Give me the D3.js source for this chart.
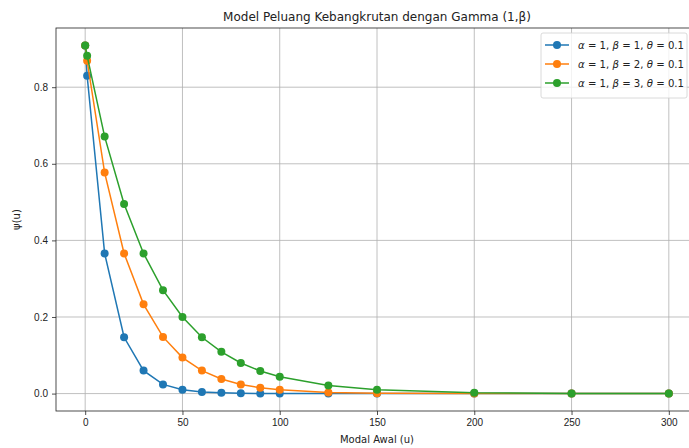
<!DOCTYPE html>
<html>
<head>
<meta charset="utf-8">
<script src="https://cdn.jsdelivr.net/npm/d3@7"></script>
<style>
body{margin:0;background:#fff;}
svg{display:block;font-family:"DejaVu Sans",sans-serif;}
.tick text{font-size:10px;fill:#222;}
.title{font-size:12px;fill:#222;}
.label{font-size:10px;fill:#222;}
.legtext{font-size:10px;fill:#222;}
</style>
</head>
<body>
<svg id="chart"></svg>
<script>
// data
var modal = [0,1,10,20,30,40,50,60,70,80,90,100,125,150,200,250,300]
var psiBeta1 = [0.909,0.830,0.366,0.147,0.060,0.024,0.010,0.004,0.002,0.001,0.0003,0.0001,0,0,0,0,0]
var psiBeta2 = [0.909,0.869,0.577,0.366,0.233,0.148,0.094,0.060,0.038,0.024,0.015,0.010,0.003,0.001,0.0001,0,0]
var psiBeta3 = [0.909,0.882,0.671,0.495,0.366,0.270,0.200,0.147,0.109,0.080,0.059,0.044,0.021,0.010,0.002,0.0005,0.0001]
var betas = [1,2,3]
var xTicks = [0,50,100,150,200,250,300]
var yTicks = [0,0.2,0.4,0.6,0.8]
var colors = ["#1f77b4","#ff7f0e","#2ca02c"]

var screen = {width:689, height:448}
var margins = {top:28, left:56, right:-9, bottom:37}
var graph = {
    width:screen.width-margins.left-margins.right,
    height:screen.height-margins.top-margins.bottom
}

var svg = d3.select("#chart")
    .attr("width",screen.width)
    .attr("height",screen.height)

var xScale = d3.scaleLinear()
    .domain([-15,315])
    .range([0,graph.width])

var yScale = d3.scaleLinear()
    .domain([-0.04545,0.95455])
    .range([graph.height,0])

var g = svg.append("g")
    .attr("transform","translate("+margins.left+","+margins.top+")")

//grid
g.append("g").selectAll("line")
    .data(xTicks)
    .enter().append("line")
    .attr("x1",function(d){return xScale(d);})
    .attr("x2",function(d){return xScale(d);})
    .attr("y1",0).attr("y2",graph.height)
    .attr("stroke","#b0b0b0").attr("stroke-width",0.8)

g.append("g").selectAll("line")
    .data(yTicks)
    .enter().append("line")
    .attr("y1",function(d){return yScale(d);})
    .attr("y2",function(d){return yScale(d);})
    .attr("x1",0).attr("x2",graph.width)
    .attr("stroke","#b0b0b0").attr("stroke-width",0.8)

//axes
var xAxis = d3.axisBottom(xScale)
    .tickValues(xTicks)
    .tickSize(4)
    .tickPadding(4)
    .tickFormat(d3.format("d"))

var yAxis = d3.axisLeft(yScale)
    .tickValues(yTicks)
    .tickSize(4)
    .tickPadding(4)
    .tickFormat(d3.format(".1f"))

g.append("g")
    .attr("transform","translate(0,"+graph.height+")")
    .call(xAxis)
    .call(function(a){a.select(".domain").remove();})

g.append("g")
    .call(yAxis)
    .call(function(a){a.select(".domain").remove();})

g.selectAll(".tick line").attr("stroke","#222").attr("stroke-width",0.8)

//series
var series = [psiBeta1,psiBeta2,psiBeta3]

var line = d3.line()
    .x(function(d,i){return xScale(modal[i]);})
    .y(function(d){return yScale(d);})

series.forEach(function(vals,k)
{
    g.append("path")
        .datum(vals)
        .attr("d",line)
        .attr("fill","none")
        .attr("stroke",colors[k])
        .attr("stroke-width",1.5)

    g.append("g").selectAll("circle")
        .data(vals)
        .enter().append("circle")
        .attr("cx",function(d,i){return xScale(modal[i]);})
        .attr("cy",function(d){return yScale(d);})
        .attr("r",4)
        .attr("fill",colors[k])
})

//frame
g.append("rect")
    .attr("width",graph.width)
    .attr("height",graph.height)
    .attr("fill","none")
    .attr("stroke","#222")
    .attr("stroke-width",0.8)

//labels
svg.append("text")
    .classed("title",true)
    .attr("text-anchor","middle")
    .attr("x",margins.left+graph.width/2)
    .attr("y",margins.top-7)
    .text("Model Peluang Kebangkrutan dengan Gamma (1,\u03b2)")

svg.append("text")
    .classed("label",true)
    .attr("text-anchor","middle")
    .attr("x",margins.left+graph.width/2)
    .attr("y",443)
    .text("Modal Awal (u)")

svg.append("g")
    .attr("transform","translate(20,"+(margins.top+graph.height/2)+")")
    .append("text")
    .classed("label",true)
    .attr("text-anchor","middle")
    .attr("transform","rotate(-90)")
    .text("\u03c8(u)")

//legend
var legend = svg.append("g")
    .attr("transform","translate(541,33)")

legend.append("rect")
    .attr("width",146)
    .attr("height",65)
    .attr("rx",2)
    .attr("fill","#fff")
    .attr("fill-opacity",0.8)
    .attr("stroke","#d0d0d0")
    .attr("stroke-width",0.8)

betas.forEach(function(b,k)
{
    var row = legend.append("g")
        .attr("transform","translate(0,"+(12+k*19)+")")
    row.append("line")
        .attr("x1",4).attr("x2",28)
        .attr("stroke",colors[k]).attr("stroke-width",1.5)
    row.append("circle")
        .attr("cx",16).attr("r",4).attr("fill",colors[k])
    var t = row.append("text")
        .classed("legtext",true)
        .attr("x",37)
        .attr("y",4)
        .attr("textLength",106)
        .attr("lengthAdjust","spacingAndGlyphs")
    t.append("tspan").attr("font-style","italic").text("\u03b1")
    t.append("tspan").text(" = 1, ")
    t.append("tspan").attr("font-style","italic").text("\u03b2")
    t.append("tspan").text(" = "+b+", ")
    t.append("tspan").attr("font-style","italic").text("\u03b8")
    t.append("tspan").text(" = 0.1")
})
</script>
</body>
</html>
